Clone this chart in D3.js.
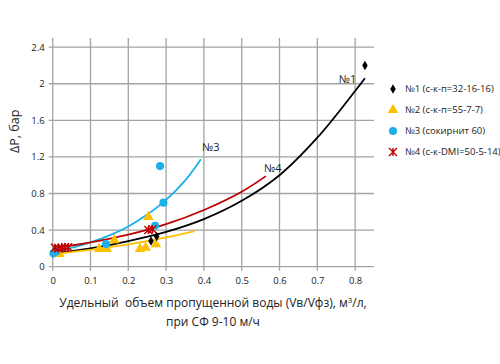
<!DOCTYPE html>
<html>
<head>
<meta charset="utf-8">
<script src="https://cdn.jsdelivr.net/npm/d3@7"></script>
<style>
  body { margin: 0; background: #fff; }
  text { font-family: "Open Sans", "Noto Sans", sans-serif; fill: #222; white-space: pre; }
</style>
</head>
<body>
<div id="chart"></div>
<script>
// tick values
const xTicks = [0, 0.1, 0.2, 0.3, 0.4, 0.5, 0.6, 0.7, 0.8];
const yTicks = [0, 0.4, 0.8, 1.2, 1.6, 2, 2.4];

// measured points [x, dP]
const s1 = [[0.0, 0.146], [0.26, 0.28], [0.275, 0.33], [0.826, 2.20]];
const s2 = [[0.013, 0.15], [0.018, 0.14], [0.123, 0.195], [0.143, 0.195], [0.163, 0.29],
            [0.231, 0.195], [0.246, 0.208], [0.253, 0.545], [0.273, 0.245]];
const s3 = [[0.002, 0.146], [0.01, 0.17], [0.141, 0.248], [0.271, 0.448], [0.284, 1.10], [0.293, 0.70]];
const s4 = [[0.006, 0.208], [0.015, 0.2], [0.024, 0.208], [0.033, 0.212], [0.041, 0.212],
            [0.253, 0.40], [0.264, 0.41]];

// trend lines
const t1 = [[0, 0.146], [0.1, 0.2], [0.2, 0.28], [0.3, 0.38], [0.4, 0.52], [0.5, 0.72],
            [0.6, 1.0], [0.7, 1.41], [0.8, 1.92], [0.826, 2.06]];
const t2 = [[0, 0.14], [0.1, 0.185], [0.2, 0.243], [0.3, 0.32], [0.375, 0.39]];
const t3 = [[0, 0.16], [0.05, 0.205], [0.1, 0.265], [0.15, 0.342], [0.2, 0.44], [0.25, 0.57],
            [0.3, 0.73], [0.35, 0.94], [0.392, 1.175]];
const t4 = [[0, 0.2], [0.1, 0.265], [0.2, 0.35], [0.3, 0.465], [0.4, 0.62], [0.5, 0.82], [0.564, 0.99]];

const names = ["№1 (с-к-п=32-16-16)", "№2 (с-к-п=55-7-7)", "№3 (сокирнит 60)", "№4 (с-к-DMI=50-5-14)"];
const colors = ["#000000", "#FFC000", "#1BB0EA", "#C00000"];

// curve labels: text, x, dP
const curveLabels = [["№1", 0.757, 2.01], ["№3", 0.395, 1.265], ["№4", 0.559, 1.035]];

const width = 500, height = 364;
const x = d3.scaleLinear().domain([0, 0.85]).range([52.7, 374]);
const y = d3.scaleLinear().domain([0, 2.5]).range([266.7, 38]);

const svg = d3.select("#chart").append("svg")
  .attr("width", width)
  .attr("height", height);

/* grid + axes */
const grid = svg.append("g").attr("stroke", "#a3a3a3").attr("stroke-width", 1.3);
grid.selectAll("line.v")
  .data(xTicks)
  .enter().append("line")
  .attr("x1", d => x(d)).attr("x2", d => x(d))
  .attr("y1", y(2.5)).attr("y2", y(0) + 4);
grid.selectAll("line.h")
  .data(yTicks)
  .enter().append("line")
  .attr("x1", x(0) - 4).attr("x2", x(0.85))
  .attr("y1", d => y(d)).attr("y2", d => y(d));

const xAxis = svg.append("g")
  .attr("transform", `translate(0,${y(0)})`)
  .call(d3.axisBottom(x).tickValues(xTicks).tickSize(0).tickPadding(11).tickFormat(d => String(d)));
const yAxis = svg.append("g")
  .attr("transform", `translate(${x(0)},0)`)
  .call(d3.axisLeft(y).tickValues(yTicks).tickSize(0).tickPadding(8).tickFormat(d => String(d)));
[xAxis, yAxis].forEach(a => {
  a.select(".domain").remove();
  a.selectAll("text").style("font-size", "9.5px").attr("fill", "#333");
});

/* trend lines */
const line = d3.line()
  .x(d => x(d[0]))
  .y(d => y(d[1]))
  .curve(d3.curveCatmullRom);

[t1, t2, t3, t4].forEach((t, i) => {
  svg.append("path")
    .datum(t)
    .attr("fill", "none")
    .attr("stroke", colors[i])
    .attr("stroke-width", 1.8)
    .attr("d", line);
});

/* markers */
const sym = [d3.symbolDiamond, d3.symbolTriangle, d3.symbolCircle];
const sizes = [26, 48, 52];

function drawMarker(g, i) {
  if (i < 3) {
    g.append("path")
      .attr("d", d3.symbol().type(sym[i]).size(sizes[i]))
      .attr("fill", colors[i]);
  } else {
    const r = 4;
    g.append("path")
      .attr("d", `M${-r},${-r}L${r},${r}M${-r},${r}L${r},${-r}M0,${-r}L0,${r}`)
      .attr("stroke", colors[i])
      .attr("stroke-width", 1.4)
      .attr("fill", "none");
  }
}

const series = [s1, s2, s3, s4];
[1, 0, 2, 3].forEach(i => {
  svg.append("g").selectAll("g")
    .data(series[i])
    .enter().append("g")
    .attr("transform", d => `translate(${x(d[0])},${y(d[1])})`)
    .each(function() { drawMarker(d3.select(this), i); });
});

/* curve labels */
svg.append("g").selectAll("text")
  .data(curveLabels)
  .enter().append("text")
  .attr("x", d => x(d[1]))
  .attr("y", d => y(d[2]))
  .attr("font-size", "11px")
  .text(d => d[0]);

/* legend */
const legend = svg.append("g").selectAll("g")
  .data(names)
  .enter().append("g")
  .attr("transform", (d, i) => `translate(393,${89 + i * 21})`);
legend.each(function(d, i) {
  drawMarker(d3.select(this), i);
});
legend.append("text")
  .attr("x", 12)
  .attr("dy", "0.35em")
  .attr("font-size", "9.5px")
  .text(d => d);

/* axis titles */
svg.append("text")
  .attr("transform", `translate(19,${y(1.48)}) rotate(-90)`)
  .attr("text-anchor", "middle")
  .attr("font-size", "12.5px")
  .text("ΔP, бар");

const xt = svg.append("text")
  .attr("text-anchor", "middle")
  .attr("font-size", "12px");
xt.append("tspan").attr("x", 213).attr("y", 307)
  .text("Удельный  объем пропущенной воды (Vв/Vфз), м")
  .append("tspan").attr("font-size", "8px").attr("dy", "-4").text("3");
xt.append("tspan").attr("dy", "4").text("/л,");
xt.append("tspan").attr("x", 213).attr("y", 326).text("при СФ 9-10 м/ч");
</script>
</body>
</html>
